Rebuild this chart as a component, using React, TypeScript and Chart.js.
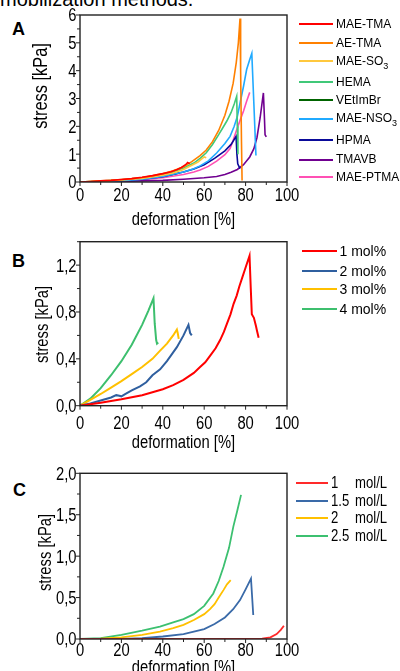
import React, { useEffect, useRef } from 'react';
import { Chart, registerables } from 'chart.js';

Chart.register(...registerables);

type P = [number, number];

const SANS = '"Liberation Sans", Arial, sans-serif';
const NARROW_SCALE = 0.82;
const INK = '#000';

// ---------- Panel A ----------
const A_LABELS = ['MAE-TMA', 'AE-TMA', 'MAE-SO3', 'HEMA', 'VEtImBr', 'MAE-NSO3', 'HPMA', 'TMAVB', 'MAE-PTMA'];
const A_COLORS = ['#ff0000', '#ff8000', '#ffc83d', '#40c878', '#006400', '#20aaff', '#0a0a9a', '#700090', '#ff50b4'];
const A_MAE_TMA: P[] = [[0, 0], [5, 0.02], [10, 0.04], [15, 0.06], [20, 0.09], [25, 0.12], [30, 0.17], [35, 0.23], [40, 0.3], [44, 0.37], [47, 0.45], [49, 0.52], [51, 0.62], [52, 0.7], [53, 0.66]];
const A_AE_TMA: P[] = [[0, 0], [5, 0.02], [10, 0.04], [15, 0.06], [20, 0.09], [25, 0.12], [30, 0.16], [35, 0.22], [40, 0.3], [45, 0.4], [50, 0.55], [54, 0.73], [58, 0.95], [61, 1.15], [64, 1.45], [67, 1.85], [70, 2.4], [72, 2.9], [74, 3.55], [75.5, 4.3], [76.5, 5.0], [77.3, 5.87], [77.6, 4.0], [78, 1.5], [78.3, 0.05]];
const A_MAE_SO3: P[] = [[0, 0], [10, 0.03], [20, 0.07], [30, 0.13], [40, 0.24], [45, 0.32], [50, 0.45], [54, 0.6], [57, 0.72], [60, 0.9], [61, 0.87]];
const A_HEMA: P[] = [[0, 0], [10, 0.03], [20, 0.08], [30, 0.15], [40, 0.27], [45, 0.36], [50, 0.5], [55, 0.68], [58, 0.85], [61, 1.05], [64, 1.35], [67, 1.7], [69, 1.95], [71, 2.2], [73, 2.5], [74.5, 2.8], [75.7, 3.08], [76, 2.0], [76.3, 1.0]];
const A_VETIMBR: P[] = [[0, 0], [10, 0.02], [20, 0.05], [30, 0.1], [40, 0.19], [48, 0.32]];
const A_MAE_NSO3: P[] = [[0, 0], [10, 0.02], [20, 0.05], [30, 0.1], [40, 0.2], [50, 0.36], [55, 0.48], [58, 0.58], [62, 0.76], [66, 1.04], [70, 1.38], [72.5, 1.64], [74.5, 2.0], [76, 2.35], [77.5, 2.9], [79, 3.44], [80.5, 4.04], [82, 4.4], [83, 4.62], [84, 2.8], [85, 0.95]];
const A_HPMA: P[] = [[0, 0], [10, 0.02], [20, 0.05], [30, 0.1], [40, 0.19], [50, 0.36], [55, 0.47], [60, 0.62], [65, 0.85], [70, 1.12], [73, 1.35], [75.4, 1.64], [75.8, 1.0], [76.2, 0.65], [77.3, 0.48]];
const A_TMAVB: P[] = [[0, 0], [10, 0.01], [20, 0.02], [30, 0.04], [40, 0.06], [50, 0.1], [60, 0.15], [66, 0.2], [70, 0.27], [73, 0.35], [76, 0.45], [79, 0.62], [82, 0.9], [84, 1.2], [85.5, 1.6], [87, 2.3], [88.6, 3.2], [89.1, 2.3], [89.4, 1.7], [90, 1.62]];
const A_MAE_PTMA: P[] = [[0, 0], [10, 0.02], [20, 0.04], [30, 0.08], [40, 0.15], [50, 0.27], [55, 0.36], [58, 0.43], [62, 0.56], [66, 0.75], [70, 0.98], [72.5, 1.2], [74, 1.5], [75.7, 1.88], [77.5, 2.25], [79, 2.55], [80.5, 2.9], [82, 3.22]];
const A_SERIES = [A_MAE_TMA, A_AE_TMA, A_MAE_SO3, A_HEMA, A_VETIMBR, A_MAE_NSO3, A_HPMA, A_TMAVB, A_MAE_PTMA];
const A_ORDER = [0, 1, 2, 3, 20, 5, 6, 7, 8];
const A_Y_TICKS = [0, 1, 2, 3, 4, 5, 6];

// ---------- Panel B ----------
const B_LABELS = ['1 mol%', '2 mol%', '3 mol%', '4 mol%'];
const B_COLORS = ['#ff0000', '#2f5f9f', '#ffc000', '#3dbf6e'];
const B_1: P[] = [[0, 0], [10, 0.025], [20, 0.055], [30, 0.09], [40, 0.14], [45, 0.175], [50, 0.22], [52.5, 0.25], [55, 0.28], [58, 0.33], [60.5, 0.37], [63, 0.43], [65.5, 0.49], [67.7, 0.56], [69.5, 0.63], [71, 0.7], [72.7, 0.78], [74.2, 0.87], [75.7, 0.94], [77, 1.02], [78.5, 1.1], [80, 1.18], [81.9, 1.28], [82.5, 1.0], [83, 0.78], [84, 0.75], [85, 0.68], [85.5, 0.64], [86.3, 0.58]];
const B_2: P[] = [[0, 0], [5, 0.02], [10, 0.045], [15, 0.07], [17.5, 0.09], [19, 0.085], [20, 0.08], [22, 0.1], [25, 0.13], [29, 0.165], [32, 0.2], [35, 0.26], [38.7, 0.31], [42, 0.38], [46.8, 0.5], [50, 0.6], [52.4, 0.69], [53.2, 0.62], [54, 0.6]];
const B_3: P[] = [[0, 0], [5, 0.05], [10, 0.1], [15, 0.155], [20, 0.21], [25, 0.27], [30, 0.33], [35, 0.4], [38.7, 0.47], [42, 0.53], [45, 0.6], [46.8, 0.65], [47.2, 0.62], [47.7, 0.57]];
const B_4: P[] = [[0, 0], [5, 0.06], [10, 0.15], [15, 0.26], [20, 0.38], [25, 0.52], [30, 0.69], [33, 0.81], [35.5, 0.917], [36.1, 0.7], [36.8, 0.56], [37.2, 0.53], [37.8, 0.54]];
const B_SERIES = [B_1, B_2, B_3, B_4];
const B_Y_TICKS = [0, 0.4, 0.8, 1.2];

// ---------- Panel C ----------
const C_LABELS = ['1', '1.5', '2', '2.5'];
const C_UNIT = 'mol/L';
const C_COLORS = ['#ff2a2a', '#3a6aa8', '#ffc000', '#3cc070'];
const C_1: P[] = [[0, 0], [40, 0], [80, 0], [88, 0.005], [92, 0.02], [95, 0.06], [97, 0.11], [98.5, 0.16]];
const C_15: P[] = [[0, 0], [20, 0], [30, 0.01], [40, 0.03], [50, 0.06], [55, 0.09], [60, 0.12], [65, 0.18], [70, 0.26], [74, 0.36], [77.3, 0.47], [80, 0.6], [82.6, 0.73], [83.7, 0.29]];
const C_2: P[] = [[0, 0], [10, 0.005], [20, 0.02], [30, 0.05], [38.6, 0.09], [45, 0.13], [50, 0.17], [55, 0.23], [60, 0.3], [62.8, 0.36], [65, 0.42], [67, 0.5], [69.3, 0.59], [71, 0.66], [72.8, 0.71]];
const C_25: P[] = [[0, 0], [10, 0.01], [20, 0.05], [30, 0.1], [38.6, 0.15], [45, 0.2], [50, 0.24], [55, 0.3], [60, 0.4], [64.4, 0.55], [67, 0.7], [69.3, 0.87], [72, 1.1], [74.1, 1.36], [76, 1.55], [77.8, 1.74]];
const C_SERIES = [C_1, C_15, C_2, C_25];
const C_Y_TICKS = [0, 0.5, 1.0, 1.5, 2.0];

const X_TICKS = [0, 20, 40, 60, 80, 100];
const X_TITLE = 'deformation [%]';
const Y_TITLE = 'stress [kPa]';

function narrowText(ctx: CanvasRenderingContext2D, text: string, x: number, y: number, size: number, align: CanvasTextAlign, rot = 0) {
  ctx.save();
  ctx.translate(x, y);
  if (rot) ctx.rotate(rot);
  ctx.scale(NARROW_SCALE, 1);
  ctx.font = `${size}px ${SANS}`;
  ctx.fillStyle = INK;
  ctx.textAlign = align;
  ctx.textBaseline = 'alphabetic';
  ctx.fillText(text, 0, 0);
  ctx.restore();
}

const framePlugin = {
  id: 'frame',
  afterDraw(chart: any, _args: any, opts: any) {
    const { ctx, chartArea } = chart;
    const { left, right, top, bottom } = chartArea;
    const xs = chart.scales.x;
    const ys = chart.scales.y;
    ctx.save();
    ctx.strokeStyle = '#222';
    ctx.lineWidth = 1.4;
    ctx.strokeRect(left, top, right - left, bottom - top);
    ctx.lineWidth = 1;
    ctx.beginPath();
    const isMajor = (v: number, m: number) => Math.abs(v / m - Math.round(v / m)) < 1e-6;
    for (let i = 0; ; i++) {
      const v = xs.min + i * opts.xMinor;
      if (v > xs.max + 1e-9) break;
      const p = xs.getPixelForValue(v);
      ctx.moveTo(p, bottom);
      ctx.lineTo(p, bottom + (isMajor(v, opts.xMajor) ? 4 : 3));
    }
    for (let i = 0; ; i++) {
      const v = ys.min + i * opts.yMinor;
      if (v > ys.max + 1e-9) break;
      const p = ys.getPixelForValue(v);
      ctx.moveTo(left, p);
      ctx.lineTo(left - (isMajor(v, opts.yMajor) ? 4 : 3), p);
    }
    ctx.stroke();
    ctx.restore();

    for (const v of X_TICKS) {
      narrowText(ctx, String(v), xs.getPixelForValue(v), opts.xLabelBase, 18, 'center');
    }
    for (const v of opts.yTicks as number[]) {
      const txt = Number(v).toFixed(opts.decimals).replace('.', ',');
      narrowText(ctx, txt, opts.yLabelRight, ys.getPixelForValue(v) + 6.4, 18, 'right');
    }
    narrowText(ctx, X_TITLE, (left + right) / 2, opts.xTitleBase, 18, 'center');
    narrowText(ctx, Y_TITLE, opts.yTitleBase, opts.yTitleY, opts.yTitleSize, 'center', -Math.PI / 2);
  },
};

type PanelCfg = {
  h: number;
  top: number;
  bottom: number;
  series: P[][];
  colors: string[];
  labels: string[];
  order?: number[];
  width: number;
  yMax: number;
  yTicks: number[];
  yMinor: number;
  yMajor: number;
  decimals: number;
  xLabelBase: number;
  xTitleBase: number;
  yTitleBase: number;
  yTitleY: number;
  yTitleSize: number;
};

function buildConfig(p: PanelCfg): any {
  return {
    type: 'line',
    data: {
      datasets: p.series.map((s, i) => ({
        label: p.labels[i],
        data: s.map(([x, y]) => ({ x, y })),
        borderColor: p.colors[i],
        backgroundColor: p.colors[i],
        borderWidth: p.width,
        pointRadius: 0,
        tension: 0,
        fill: false,
        order: p.order ? p.order[i] : i,
      })),
    },
    options: {
      responsive: false,
      animation: false,
      devicePixelRatio: 1,
      events: [],
      layout: { padding: { left: 0, right: 113, top: p.top, bottom: 0 } },
      plugins: {
        legend: { display: false },
        tooltip: { enabled: false },
        frame: {
          xMinor: 10,
          xMajor: 20,
          yMinor: p.yMinor,
          yMajor: p.yMajor,
          yTicks: p.yTicks,
          decimals: p.decimals,
          xLabelBase: p.xLabelBase,
          xTitleBase: p.xTitleBase,
          yLabelRight: 76.5,
          yTitleBase: p.yTitleBase,
          yTitleY: p.yTitleY,
          yTitleSize: p.yTitleSize,
        },
      },
      scales: {
        x: {
          type: 'linear',
          min: 0,
          max: 100,
          grid: { display: false },
          border: { display: false },
          ticks: { display: false, stepSize: 20 },
          title: { display: false },
          afterFit: (s: any) => {
            s.height = p.h - p.bottom;
          },
        },
        y: {
          type: 'linear',
          min: 0,
          max: p.yMax,
          grid: { display: false },
          border: { display: false },
          ticks: { display: false, stepSize: p.yMajor },
          afterFit: (s: any) => {
            s.width = 80;
          },
        },
      },
    },
    plugins: [framePlugin],
  };
}

const PANEL_A: PanelCfg = {
  h: 235, top: 15, bottom: 182, series: A_SERIES, colors: A_COLORS, labels: A_LABELS, order: A_ORDER,
  width: 1.6, yMax: 6, yTicks: A_Y_TICKS, yMinor: 0.5, yMajor: 1, decimals: 0,
  xLabelBase: 200.5, xTitleBase: 225, yTitleBase: 47, yTitleY: 86, yTitleSize: 20,
};
const PANEL_B: PanelCfg = {
  h: 235, top: 16.7, bottom: 180.7, series: B_SERIES, colors: B_COLORS, labels: B_LABELS,
  width: 2, yMax: 1.4, yTicks: B_Y_TICKS, yMinor: 0.2, yMajor: 0.4, decimals: 1,
  xLabelBase: 204, xTitleBase: 223, yTitleBase: 48, yTitleY: 99.5, yTitleSize: 18,
};
const PANEL_C: PanelCfg = {
  h: 228, top: 21.3, bottom: 187, series: C_SERIES, colors: C_COLORS, labels: C_LABELS,
  width: 1.8, yMax: 2, yTicks: C_Y_TICKS, yMinor: 0.25, yMajor: 0.5, decimals: 1,
  xLabelBase: 204, xTitleBase: 221, yTitleBase: 51, yTitleY: 100.5, yTitleSize: 18,
};

function ChartCanvas({ cfg, top }: { cfg: PanelCfg; top: number }) {
  const ref = useRef<HTMLCanvasElement | null>(null);
  useEffect(() => {
    if (!ref.current) return;
    const chart = new Chart(ref.current, buildConfig(cfg));
    return () => chart.destroy();
  }, [cfg]);
  return (
    <canvas
      ref={ref}
      width={400}
      height={cfg.h}
      style={{ position: 'absolute', left: 0, top, width: 400, height: cfg.h }}
    />
  );
}

function withSub(label: string) {
  const m = label.match(/^(.*SO)(\d)$/);
  if (!m) return label;
  return (
    <>
      {m[1]}
      <sub style={{ fontSize: 9, verticalAlign: 'baseline', position: 'relative', top: 4 }}>{m[2]}</sub>
    </>
  );
}

const A_ROWS = [24, 42.7, 60.7, 81.7, 100, 118.3, 140, 159.3, 176.7];
const B_ROWS = [251, 270.7, 289.3, 309];
const C_ROWS = [482.7, 500.7, 518.3, 535.7];

const narrowDiv: React.CSSProperties = {
  position: 'absolute', lineHeight: '18px', fontSize: 16, whiteSpace: 'nowrap',
  transform: `scaleX(${NARROW_SCALE})`, transformOrigin: 'left center',
};

function swatch(left: number, width: number, cy: number, h: number, color: string) {
  return (
    <div style={{ position: 'absolute', left, width, top: Math.round(cy - h / 2), height: h, background: color }} />
  );
}

export default function App() {
  return (
    <div
      style={{
        position: 'fixed', left: 0, top: 0, width: 400, height: 671, overflow: 'hidden',
        background: '#fff', fontFamily: SANS, color: INK,
      }}
    >
      <div style={{ position: 'absolute', left: 0, top: -10.9, fontSize: 20, lineHeight: '20px', whiteSpace: 'nowrap' }}>
        mobilization methods.
      </div>
      {[['A', 20.3, 12], ['B', 252.3, 12], ['C', 481.3, 13]].map(([t, y, x]) => (
        <div key={t as string} style={{ position: 'absolute', left: x as number, top: y as number, fontSize: 18, lineHeight: '18px', fontWeight: 'bold' }}>
          {t}
        </div>
      ))}
      <ChartCanvas cfg={PANEL_A} top={0} />
      <ChartCanvas cfg={PANEL_B} top={225} />
      <ChartCanvas cfg={PANEL_C} top={452} />

      {A_LABELS.map((l, i) => (
        <React.Fragment key={l}>
          {swatch(299, 34, A_ROWS[i], 1.5, A_COLORS[i])}
          <div style={{ position: 'absolute', left: 336, top: A_ROWS[i] - 8, lineHeight: '16px', fontSize: 12, whiteSpace: 'nowrap' }}>
            {withSub(l)}
          </div>
        </React.Fragment>
      ))}
      {B_LABELS.map((l, i) => (
        <React.Fragment key={l}>
          {swatch(302, 35, B_ROWS[i], 2, B_COLORS[i])}
          <div style={{ position: 'absolute', left: 339.5, top: B_ROWS[i] - 9, lineHeight: '18px', fontSize: 14, whiteSpace: 'nowrap' }}>
            {l}
          </div>
        </React.Fragment>
      ))}
      {C_LABELS.map((l, i) => (
        <React.Fragment key={l}>
          {swatch(296, 32, C_ROWS[i], 2, C_COLORS[i])}
          <div style={{ ...narrowDiv, left: 330.5, top: C_ROWS[i] - 9 }}>{l}</div>
          <div style={{ ...narrowDiv, left: 354.5, top: C_ROWS[i] - 9 }}>{C_UNIT}</div>
        </React.Fragment>
      ))}
    </div>
  );
}
